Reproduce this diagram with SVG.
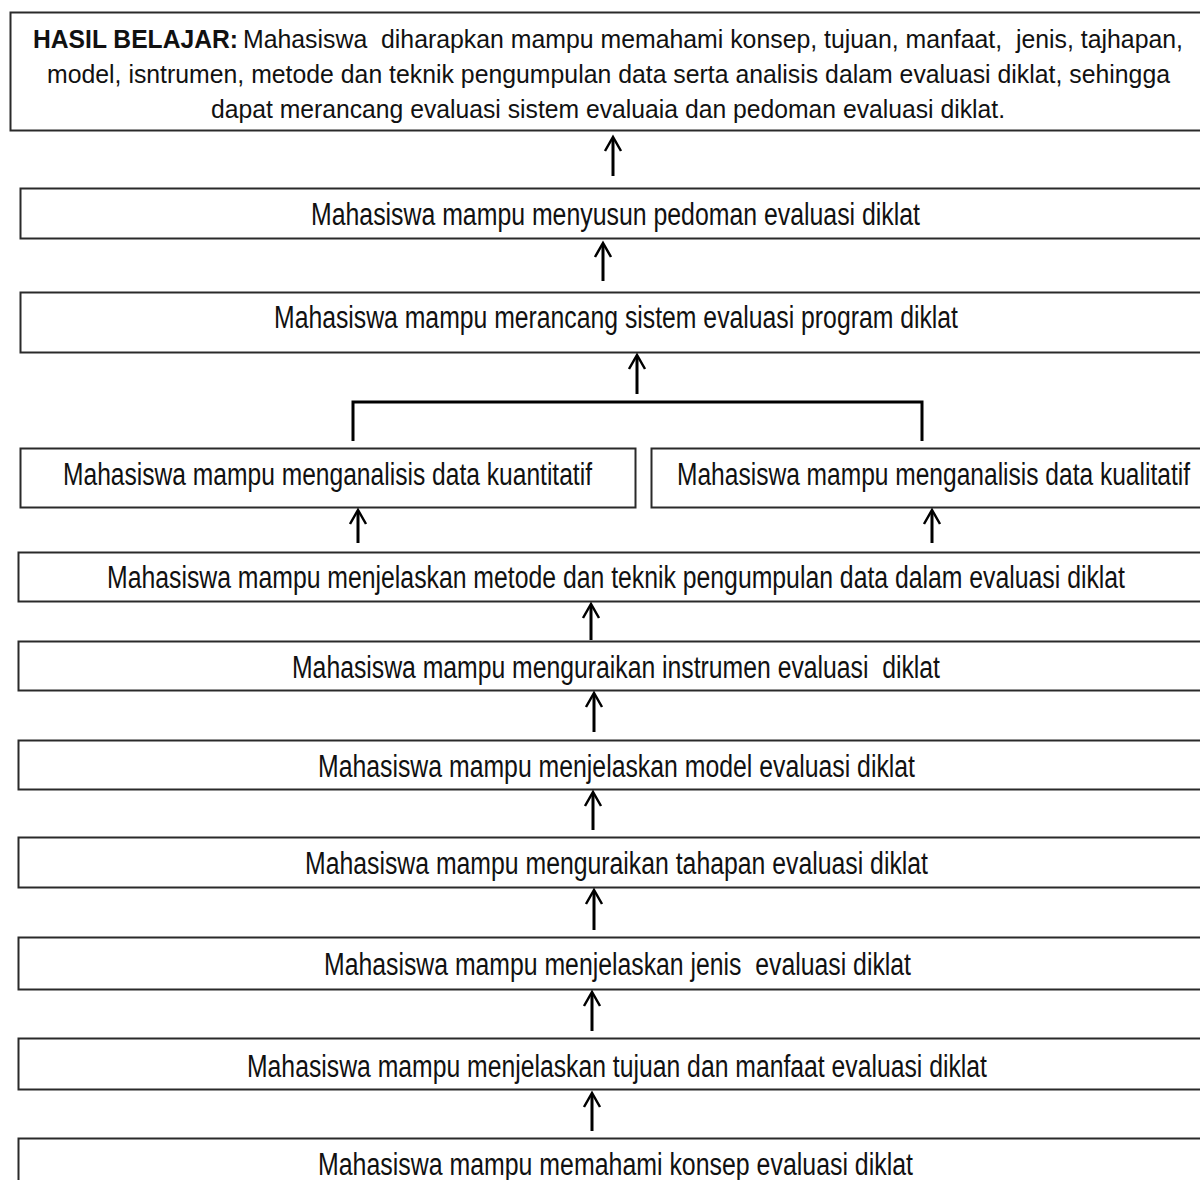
<svg xmlns="http://www.w3.org/2000/svg" width="1200" height="1180" viewBox="0 0 1200 1180" xml:space="preserve">
<style>
.box{fill:#fff;stroke:#2a2a2a;stroke-width:2}
text{white-space:pre}
.t{font-family:"Liberation Sans",Arial,sans-serif;font-size:31px;fill:#111}
.h{font-family:"Liberation Sans",Arial,sans-serif;font-size:26px;fill:#111}
.hb{font-weight:bold}
.c{stroke:#000;stroke-width:3;fill:none}
.ah{stroke:#000;stroke-width:2.5;fill:none;stroke-linejoin:miter}
</style>
<rect width="1200" height="1180" fill="#fff"/>
<g id="n0">
<rect class="box" x="10.5" y="12.5" width="1200" height="118"/>
<text class="h hb" x="33" y="48" textLength="205" lengthAdjust="spacingAndGlyphs">HASIL BELAJAR:</text>
<text class="h" x="243" y="48" textLength="940" lengthAdjust="spacingAndGlyphs">Mahasiswa  diharapkan mampu memahami konsep, tujuan, manfaat,  jenis, tajhapan,</text>
<text class="h" x="47" y="83" textLength="1123" lengthAdjust="spacingAndGlyphs">model, isntrumen, metode dan teknik pengumpulan data serta analisis dalam evaluasi diklat, sehingga</text>
<text class="h" x="211" y="118" textLength="794" lengthAdjust="spacingAndGlyphs">dapat merancang evaluasi sistem evaluaia dan pedoman evaluasi diklat.</text>
</g>
<g id="n1">
<rect class="box" x="20.5" y="188.5" width="1190" height="50"/>
<text class="t" x="311" y="225" textLength="609" lengthAdjust="spacingAndGlyphs">Mahasiswa mampu menyusun pedoman evaluasi diklat</text>
</g>
<g id="n2">
<rect class="box" x="20.5" y="292.5" width="1190" height="60"/>
<text class="t" x="274" y="328" textLength="684" lengthAdjust="spacingAndGlyphs">Mahasiswa mampu merancang sistem evaluasi program diklat</text>
</g>
<g id="n3a">
<rect class="box" x="20.5" y="448.5" width="615" height="59"/>
<text class="t" x="63" y="485" textLength="529" lengthAdjust="spacingAndGlyphs">Mahasiswa mampu menganalisis data kuantitatif</text>
</g>
<g id="n3b">
<rect class="box" x="651.5" y="448.5" width="560" height="59"/>
<text class="t" x="677" y="485" textLength="513" lengthAdjust="spacingAndGlyphs">Mahasiswa mampu menganalisis data kualitatif</text>
</g>
<g id="n4">
<rect class="box" x="18.5" y="552.5" width="1192" height="49"/>
<text class="t" x="107" y="588" textLength="1018" lengthAdjust="spacingAndGlyphs">Mahasiswa mampu menjelaskan metode dan teknik pengumpulan data dalam evaluasi diklat</text>
</g>
<g id="n5">
<rect class="box" x="18.5" y="641.5" width="1192" height="49"/>
<text class="t" x="292" y="678" textLength="648" lengthAdjust="spacingAndGlyphs">Mahasiswa mampu menguraikan instrumen evaluasi  diklat</text>
</g>
<g id="n6">
<rect class="box" x="18.5" y="740.5" width="1192" height="49"/>
<text class="t" x="318" y="777" textLength="597" lengthAdjust="spacingAndGlyphs">Mahasiswa mampu menjelaskan model evaluasi diklat</text>
</g>
<g id="n7">
<rect class="box" x="18.5" y="837.5" width="1192" height="50"/>
<text class="t" x="305" y="874" textLength="623" lengthAdjust="spacingAndGlyphs">Mahasiswa mampu menguraikan tahapan evaluasi diklat</text>
</g>
<g id="n8">
<rect class="box" x="18.5" y="937.5" width="1192" height="52"/>
<text class="t" x="324" y="975" textLength="587" lengthAdjust="spacingAndGlyphs">Mahasiswa mampu menjelaskan jenis  evaluasi diklat</text>
</g>
<g id="n9">
<rect class="box" x="18.5" y="1038.5" width="1192" height="51"/>
<text class="t" x="247" y="1077" textLength="740" lengthAdjust="spacingAndGlyphs">Mahasiswa mampu menjelaskan tujuan dan manfaat evaluasi diklat</text>
</g>
<g id="n10">
<rect class="box" x="18.5" y="1138.5" width="1192" height="60"/>
<text class="t" x="318" y="1175" textLength="595" lengthAdjust="spacingAndGlyphs">Mahasiswa mampu memahami konsep evaluasi diklat</text>
</g>
<g id="connectors">
<path class="c" d="M613 138V176"/><path class="ah" d="M605 151L613 137L621 151"/>
<path class="c" d="M603 244V281"/><path class="ah" d="M595 257L603 243L611 257"/>
<path class="c" d="M637 356V394"/><path class="ah" d="M629 369L637 355L645 369"/>
<path class="c" d="M353 441V402H922V441"/>
<path class="c" d="M358 511V543"/><path class="ah" d="M350 524L358 510L366 524"/>
<path class="c" d="M932 511V543"/><path class="ah" d="M924 524L932 510L940 524"/>
<path class="c" d="M591 605V640"/><path class="ah" d="M583 618L591 604L599 618"/>
<path class="c" d="M594 694V732"/><path class="ah" d="M586 707L594 693L602 707"/>
<path class="c" d="M593 793V830"/><path class="ah" d="M585 806L593 792L601 806"/>
<path class="c" d="M594 891V930"/><path class="ah" d="M586 904L594 890L602 904"/>
<path class="c" d="M592 993V1031"/><path class="ah" d="M584 1006L592 992L600 1006"/>
<path class="c" d="M592 1094V1131"/><path class="ah" d="M584 1107L592 1093L600 1107"/>
</g>
</svg>
